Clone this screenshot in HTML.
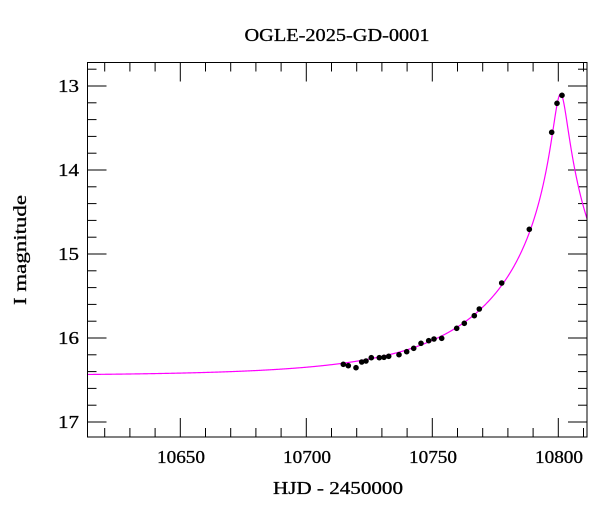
<!DOCTYPE html>
<html><head><meta charset="utf-8"><style>
body{margin:0;background:#fff}
svg{display:block}
text{font-family:"Liberation Serif",serif;fill:#000;stroke:#000;stroke-width:0.3}
</style></head><body>
<svg id="s" width="600" height="512" xmlns="http://www.w3.org/2000/svg">
<text x="337" y="41" font-size="18" text-anchor="middle" textLength="185" lengthAdjust="spacingAndGlyphs">OGLE-2025-GD-0001</text>
<text x="338" y="494" font-size="18" text-anchor="middle" textLength="130" lengthAdjust="spacingAndGlyphs">HJD - 2450000</text>
<text transform="translate(26,250) rotate(-90)" font-size="18" text-anchor="middle" textLength="110" lengthAdjust="spacingAndGlyphs">I magnitude</text>
<g id="ticks" stroke="#000" stroke-width="1"></g>
<g font-size="18" text-anchor="end">
<text x="79" y="92" textLength="21" lengthAdjust="spacingAndGlyphs">13</text><text x="79" y="176" textLength="21" lengthAdjust="spacingAndGlyphs">14</text><text x="79" y="260" textLength="21" lengthAdjust="spacingAndGlyphs">15</text><text x="79" y="344" textLength="21" lengthAdjust="spacingAndGlyphs">16</text><text x="79" y="428" textLength="21" lengthAdjust="spacingAndGlyphs">17</text>
</g>
<g font-size="18" text-anchor="middle">
<text x="181" y="463" textLength="48" lengthAdjust="spacingAndGlyphs">10650</text><text x="307" y="463" textLength="48" lengthAdjust="spacingAndGlyphs">10700</text><text x="433" y="463" textLength="48" lengthAdjust="spacingAndGlyphs">10750</text><text x="559" y="463" textLength="48" lengthAdjust="spacingAndGlyphs">10800</text>
</g>
<path id="curve" fill="none" stroke="#ff00ff" stroke-width="1.2"/>
<g id="pts" fill="#000"></g>
<rect x="87.5" y="62.5" width="499.5" height="374.5" fill="none" stroke="#000" stroke-width="1"/>
</svg>
<script>
var L=87.5,R=587,T=62.5,B=437;
function X(d){return 180.3+(d-10650)*2.52}
function Y(m){return 86+(m-13)*84}
var g=document.getElementById('ticks'),h='';
for(var d=10620;d<=10810;d+=10){var x=X(d),len=(d%50==0)?19:9;h+='<line x1="'+x+'" y1="'+B+'" x2="'+x+'" y2="'+(B-len)+'"/><line x1="'+x+'" y1="'+T+'" x2="'+x+'" y2="'+(T+len)+'"/>';}
for(var i=64;i<=85;i++){var m=i/5,y=Y(m);if(y<T||y>B)continue;var len=(i%5==0)?19:9;h+='<line x1="'+L+'" y1="'+y+'" x2="'+(L+len)+'" y2="'+y+'"/><line x1="'+R+'" y1="'+y+'" x2="'+(R-len)+'" y2="'+y+'"/>';}
g.innerHTML=h;
var u0=0.0455,tE=60,t0=10800.9,base=16.45,p='';
for(var x=L;x<=R;x+=0.5){var d=10650+(x-180.3)/2.52,tau=(d-t0)/tE,u=Math.sqrt(u0*u0+tau*tau),A=(u*u+2)/(u*Math.sqrt(u*u+4)),m=base-2.5*Math.log10(A);p+=(p?'L':'M')+x.toFixed(1)+' '+Y(m).toFixed(2);}
document.getElementById('curve').setAttribute('d',p);
var P=[[343.3,364.3],[348.3,365.7],[356,367.7],[361.7,362],[366,361],[371.3,357.7],[379.3,357.7],[384,357.3],[388.7,356.3],[399,354.7],[406.7,351.7],[413.7,348.3],[421,343.3],[428.7,340.7],[434,339],[441.7,338.3],[456.7,328.3],[464.3,323.3],[474.3,315.7],[479.3,309],[501.7,283],[529.3,229.3],[551.7,132.3],[557,103.3],[562,95.3]],s='';
P.forEach(function(q){s+='<circle cx="'+q[0]+'" cy="'+q[1]+'" r="2.8"/>';});
document.getElementById('pts').innerHTML=s;
</script>
</body></html>
